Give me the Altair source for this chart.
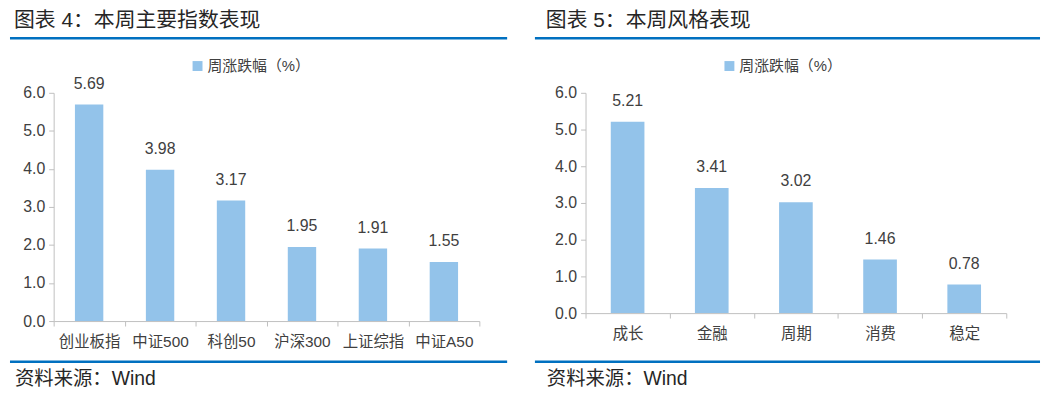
import altair as alt
import pandas as pd

cats1 = ["创业板指", "中证500", "科创50", "沪深300", "上证综指", "中证A50"]
vals1 = [5.69, 3.98, 3.17, 1.95, 1.91, 1.55]
cats2 = ["成长", "金融", "周期", "消费", "稳定"]
vals2 = [5.21, 3.41, 3.02, 1.46, 0.78]
titles = ["图表 4：本周主要指数表现", "图表 5：本周风格表现"]
legend_label = "周涨跌幅（%）"
source_label = "资料来源：Wind"
y_ticks = [0, 1, 2, 3, 4, 5, 6]

BAR = "#93C3EA"
BLUE = "#0070C0"
TXT = "#404040"
AX = "#BFBFBF"
FONT = "Liberation Sans, Noto Sans CJK SC"


def panel(cats, vals, title, width, height, rule_x1, rule_x2):
    df = pd.DataFrame({"cat": cats, "val": vals})
    x = alt.X("cat:N", sort=cats, title=None,
              scale=alt.Scale(paddingInner=0, paddingOuter=0),
              axis=alt.Axis(labelAngle=0, labelFontSize=15.5, labelColor=TXT, labelFont=FONT,
                            labelPadding=9, tickBand="extent", tickSize=5, tickColor=AX,
                            domainColor=AX, ticks=True, grid=False))
    y = alt.Y("val:Q", title=None,
              scale=alt.Scale(domain=[0, 6], nice=False),
              axis=alt.Axis(values=y_ticks, format=".1f", labelFontSize=16, labelColor=TXT,
                            labelFont=FONT, tickSize=5, tickColor=AX, domainColor=AX,
                            grid=False, labelPadding=4, labelOverlap=False, tickCount=7))
    base = alt.Chart(df)
    bars = base.mark_bar(color=BAR, width={"band": 0.4}).encode(x=x, y=y)
    labels = base.mark_text(fontSize=16, color=TXT, font=FONT, baseline="middle", dy=-21).encode(
        x=x, y=y, text=alt.Text("val:Q", format=".2f"))

    one = pd.DataFrame({"k": [0]})
    b1 = alt.Chart(one)
    anchor = b1.mark_rule(strokeOpacity=0, strokeWidth=1).encode(
        x=alt.value(0), x2=alt.value(10), y=alt.value(-84))
    title_t = b1.mark_text(text=title, fontSize=21, color="#262626", font=FONT,
                           align="left", baseline="middle").encode(
        x=alt.value(-40), y=alt.value(-72))
    top_rule = b1.mark_rule(color=BLUE, strokeWidth=2.5).encode(
        x=alt.value(rule_x1), x2=alt.value(rule_x2), y=alt.value(-55))
    bot_rule = b1.mark_rule(color=BLUE, strokeWidth=2.5).encode(
        x=alt.value(rule_x1), x2=alt.value(rule_x2), y=alt.value(271))
    leg_sq = b1.mark_square(color=BAR, size=100, opacity=1).encode(
        x=alt.value(145), y=alt.value(-27))
    leg_t = b1.mark_text(text=legend_label, fontSize=15, color=TXT, font=FONT,
                         align="left", baseline="middle").encode(
        x=alt.value(155), y=alt.value(-27))
    src_t = b1.mark_text(text=source_label, fontSize=19.5, color="#262626", font=FONT,
                         align="left", baseline="middle").encode(
        x=alt.value(-39), y=alt.value(288))
    return alt.layer(bars, labels, anchor, title_t, top_rule, bot_rule, leg_sq, leg_t, src_t).properties(
        width=width, height=height)


p1 = panel(cats1, vals1, titles[0], 429, 230, -44, 457)
p2 = panel(cats2, vals2, titles[1], 424, 222, -51, 458)

chart = alt.hconcat(p1, p2, spacing=24).configure(padding=0).configure_view(stroke=None)

chart.save("out.html", embed_options={"renderer": "svg", "actions": False})
